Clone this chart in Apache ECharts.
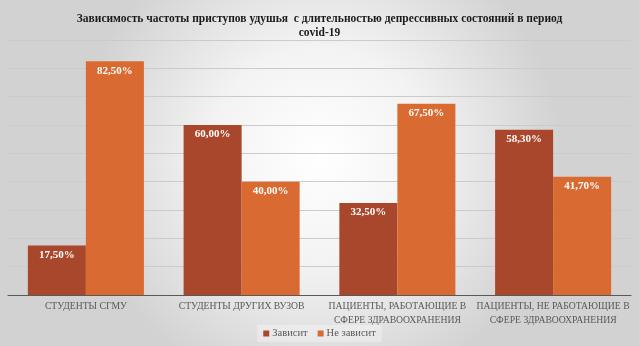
<!DOCTYPE html>
<html><head><meta charset="utf-8">
<script src="https://cdn.jsdelivr.net/npm/echarts@6/dist/echarts.min.js"></script>
<style>html,body{margin:0;padding:0;}#c{width:639px;height:346px;}</style>
</head><body><div id="c"></div>
<script>
const categories = ["СТУДЕНТЫ СГМУ", "СТУДЕНТЫ ДРУГИХ ВУЗОВ", "ПАЦИЕНТЫ, РАБОТАЮЩИЕ В\nСФЕРЕ ЗДРАВООХРАНЕНИЯ", "ПАЦИЕНТЫ, НЕ РАБОТАЮЩИЕ В\nСФЕРЕ ЗДРАВООХРАНЕНИЯ"];
const dependsName = "Зависит";
const dependsValues = [17.5, 60.0, 32.5, 58.3];
const independentName = "Не зависит";
const independentValues = [82.5, 40.0, 67.5, 41.7];
const titleText = "Зависимость частоты приступов удушья  с длительностью депрессивных состояний в период\ncovid-19";

const serif = "'Liberation Serif', 'Times New Roman', serif";
const chart = echarts.init(document.getElementById('c'));
const fmt = p => p.value.toFixed(2).replace('.', ',') + '%';
const labelCfg = {show: true, position: 'insideTop', distance: 4, color: '#ffffff', fontFamily: serif, fontWeight: 'bold', fontSize: 11, formatter: fmt};
chart.setOption({
  backgroundColor: {type: 'radial', x: 0.5, y: 0.45, r: 0.7, colorStops: [{offset: 0, color: '#ffffff'}, {offset: 0.45, color: '#f3f3f3'}, {offset: 1, color: '#d2d2d2'}]},
  title: {text: titleText, left: 'center', top: 7, textStyle: {fontFamily: serif, fontWeight: 'bold', fontSize: 11.5, color: '#1a1a1a', lineHeight: 14}},
  legend: {bottom: 4, left: 'center', itemWidth: 6, itemHeight: 6, itemGap: 10, icon: 'rect', backgroundColor: 'rgba(255,255,255,0.3)', padding: [3, 6],
    textStyle: {fontFamily: serif, fontSize: 10.5, color: '#595959', padding: [0, 0, 0, -2]}},
  grid: {left: 8, right: 8, top: 40, bottom: 51},
  xAxis: {type: 'category', data: categories, axisTick: {show: false},
    axisLine: {lineStyle: {color: '#595959', width: 1.2}},
    axisLabel: {fontFamily: serif, fontSize: 9.7, color: '#595959', lineHeight: 14, margin: 4, interval: 0}},
  yAxis: {type: 'value', min: 0, max: 90, interval: 10, axisLabel: {show: false}, axisLine: {show: false}, axisTick: {show: false},
    splitLine: {lineStyle: {color: '#cbcbcb', width: 1}}},
  series: [
    {name: dependsName, type: 'bar', data: dependsValues, barGap: '0%', barCategoryGap: '25.5%', itemStyle: {color: '#a8472b'}, label: labelCfg},
    {name: independentName, type: 'bar', data: independentValues, itemStyle: {color: '#d96b32'}, label: labelCfg}
  ]
});
</script></body></html>
